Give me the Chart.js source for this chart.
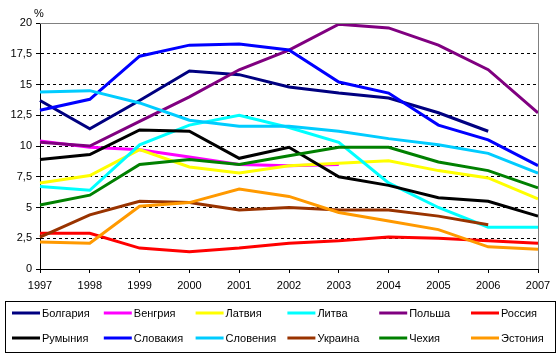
<!DOCTYPE html>
<html>
<head>
<meta charset="utf-8">
<script src="https://cdn.jsdelivr.net/npm/chart.js@4"></script>
<style>
  html, body { margin: 0; padding: 0; background: #fff; }
  #wrap { width: 557px; height: 359px; }
</style>
</head>
<body>
<div id="wrap"><canvas id="chart" width="557" height="359"></canvas></div>
<script>
const years = ['1997', '1998', '1999', '2000', '2001', '2002', '2003', '2004', '2005', '2006', '2007'];
const yTicks = [0, 2.5, 5, 7.5, 10, 12.5, 15, 17.5, 20];

const bulgaria  = [13.7, 11.4, 13.7, 16.1, 15.8, 14.8, 14.3, 13.9, 12.7, 11.2, null];
const hungary   = [10.4, 9.9, 9.7, 9.1, 8.5, 8.4, 8.5, null, null, null, null];
const latvia    = [7.0, 7.6, 9.7, 8.3, 7.8, 8.4, 8.6, 8.8, 8.0, 7.4, 5.7];
const lithuania = [6.7, 6.4, 10.1, 11.7, 12.5, 11.5, 10.3, 7.0, 5.0, 3.4, 3.4];
const poland    = [10.3, 10.0, 12.0, 14.0, 16.2, 17.8, 19.9, 19.6, 18.2, 16.2, 12.7];
const russia    = [2.9, 2.9, 1.7, 1.4, 1.7, 2.1, 2.3, 2.6, 2.5, 2.3, 2.1];
const romania   = [8.9, 9.3, 11.3, 11.2, 9.0, 9.9, 7.5, 6.8, 5.8, 5.5, 4.3];
const slovakia  = [12.9, 13.8, 17.3, 18.2, 18.3, 17.8, 15.2, 14.3, 11.7, 10.5, 8.4];
const slovenia  = [14.4, 14.5, 13.5, 12.1, 11.6, 11.6, 11.2, 10.6, 10.1, 9.4, 7.8];
const ukraine   = [2.6, 4.4, 5.5, 5.4, 4.8, 5.0, 4.8, 4.8, 4.3, 3.6, null];
const czech     = [5.2, 6.0, 8.5, 8.9, 8.5, 9.2, 9.9, 9.9, 8.7, 8.0, 6.6];
const estonia   = [2.2, 2.1, 5.1, 5.4, 6.5, 5.9, 4.6, 3.9, 3.2, 1.8, 1.6];

const series = [
  ['Болгария', bulgaria, '#000080'],
  ['Венгрия', hungary, '#ff00ff'],
  ['Латвия', latvia, '#ffff00'],
  ['Литва', lithuania, '#00ffff'],
  ['Польша', poland, '#800080'],
  ['Россия', russia, '#ff0000'],
  ['Румыния', romania, '#000000'],
  ['Словакия', slovakia, '#0000ff'],
  ['Словения', slovenia, '#00ccff'],
  ['Украина', ukraine, '#993300'],
  ['Чехия', czech, '#008000'],
  ['Эстония', estonia, '#ff9900']
];

const FONT = '11px "Liberation Sans", Arial, sans-serif';

// frame, "%" label and the boxed legend
const extras = {
  id: 'extras',
  afterDraw(chart) {
    const ctx = chart.ctx;
    const a = chart.chartArea;
    ctx.save();
    ctx.strokeStyle = '#808080';
    ctx.lineWidth = 1;
    ctx.beginPath();
    ctx.moveTo(a.left, a.top + 0.5);
    ctx.lineTo(a.right + 0.5, a.top + 0.5);
    ctx.lineTo(a.right + 0.5, a.bottom);
    ctx.stroke();

    ctx.font = FONT;
    ctx.fillStyle = '#000';
    ctx.textBaseline = 'middle';
    ctx.textAlign = 'left';
    ctx.fillText('%', a.left - 6, 14);

    ctx.strokeStyle = '#000';
    ctx.strokeRect(5.5, 301.5, 550, 51);
    chart.data.datasets.forEach((ds, i) => {
      const col = i % 6, row = Math.floor(i / 6);
      const x = 12 + col * 91.8;
      const y = 313 + row * 25;
      ctx.strokeStyle = ds.borderColor;
      ctx.lineWidth = 3;
      ctx.beginPath();
      ctx.moveTo(x, y);
      ctx.lineTo(x + 28, y);
      ctx.stroke();
      ctx.fillStyle = '#000';
      ctx.fillText(ds.label, x + 30, y + 1);
    });
    ctx.restore();
  }
};

new Chart(document.getElementById('chart'), {
  type: 'line',
  data: {
    labels: years,
    datasets: series.map(([label, data, color], i) => ({
      label: label,
      data: data,
      borderColor: color,
      backgroundColor: color,
      borderWidth: 3,
      pointRadius: 0,
      tension: 0,
      spanGaps: false,
      order: -i   // later series on top, like the original
    }))
  },
  options: {
    responsive: false,
    animation: false,
    layout: { padding: { left: 0, top: 23, right: 19, bottom: 62 } },
    plugins: {
      legend: { display: false },
      tooltip: { enabled: false }
    },
    scales: {
      x: {
        offset: false,
        afterFit(scale) { scale.height = 28; },
        grid: {
          drawOnChartArea: false,
          color: '#000',
          tickLength: 4
        },
        border: { color: '#000', width: 1 },
        ticks: {
          color: '#000',
          font: { family: '"Liberation Sans", Arial, sans-serif', size: 11 },
          padding: 6,
          maxRotation: 0,
          autoSkip: false
        }
      },
      y: {
        min: 0,
        max: 20,
        afterFit(scale) { scale.width = 40; },
        afterBuildTicks(scale) { scale.ticks = yTicks.map(v => ({ value: v })); },
        grid: {
          color: ctx => (ctx.tick && (ctx.tick.value === 20 || ctx.tick.value === 0)) ? 'rgba(0,0,0,0)' : '#000',
          tickColor: '#000',
          tickBorderDash: [],
          tickLength: 4,
          lineWidth: 1
        },
        border: { color: '#000', width: 1, dash: [3, 3] },
        ticks: {
          color: '#000',
          font: { family: '"Liberation Sans", Arial, sans-serif', size: 11 },
          padding: 4,
          callback: v => String(v).replace('.', ',')
        }
      }
    }
  },
  plugins: [extras]
});
</script>
</body>
</html>
